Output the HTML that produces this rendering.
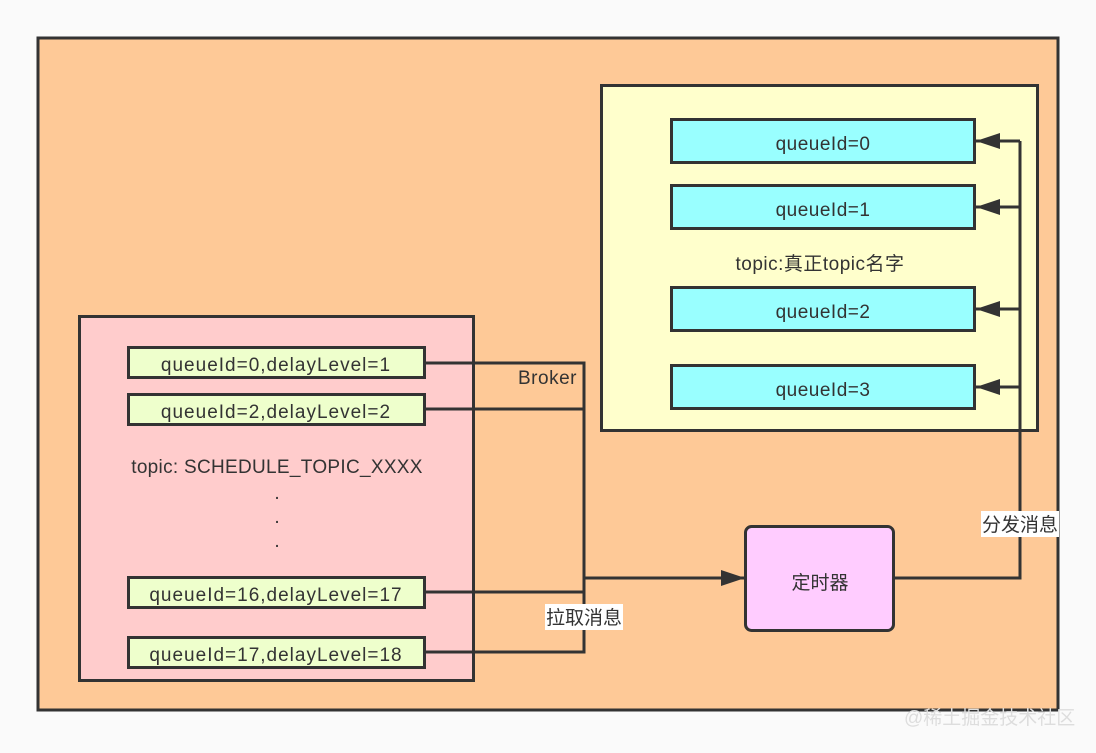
<!DOCTYPE html>
<html><head><meta charset="utf-8"><style>
html,body{margin:0;padding:0;background:#fafafa;}
svg text{font-family:"Liberation Sans","Noto Sans CJK SC",sans-serif;fill:#333;font-size:19px;}
.q{letter-spacing:1px}
</style></head><body>
<svg width="1096" height="748" xmlns="http://www.w3.org/2000/svg">
<defs>
<marker id="b" viewBox="0 0 24 16" markerWidth="24" markerHeight="16" refX="24" refY="8" orient="auto" markerUnits="userSpaceOnUse"><path d="M0,0 L24,8 L0,16Z" fill="#333"/></marker></defs>
<rect x="38" y="38" width="1020" height="672" fill="#fec997" stroke="#333" stroke-width="3"/>
<rect x="601.5" y="85.5" width="436" height="345" fill="#ffffcc" stroke="#333" stroke-width="3"/>
<g fill="#99ffff" stroke="#333" stroke-width="3">
<rect x="671.5" y="119.5" width="303" height="43"/>
<rect x="671.5" y="185.5" width="303" height="43"/>
<rect x="671.5" y="287.5" width="303" height="43"/>
<rect x="671.5" y="365.5" width="303" height="43"/>
</g>
<g text-anchor="middle" style="letter-spacing:0.5px">
<text x="823" y="150">queueId=0</text>
<text x="823" y="216">queueId=1</text>
<text x="823" y="318">queueId=2</text>
<text x="823" y="396">queueId=3</text>
<text x="820" y="270">topic:真正topic名字</text>
</g>
<rect x="79.5" y="316.5" width="394" height="364" fill="#ffcccc" stroke="#333" stroke-width="3"/>
<g fill="#eeffcc" stroke="#333" stroke-width="3">
<rect x="128.5" y="347.5" width="296" height="30"/>
<rect x="128.5" y="394.5" width="296" height="30"/>
<rect x="128.5" y="577.5" width="296" height="30"/>
<rect x="128.5" y="637.5" width="296" height="30"/>
</g>
<g text-anchor="middle">
<text class="q" x="276" y="371">queueId=0,delayLevel=1</text>
<text class="q" x="276" y="418">queueId=2,delayLevel=2</text>
<text class="q" x="276" y="601">queueId=16,delayLevel=17</text>
<text class="q" x="276" y="661">queueId=17,delayLevel=18</text>
<text x="277" y="473" style="letter-spacing:0.3px">topic: SCHEDULE_TOPIC_XXXX</text>
<text x="277" y="499">.</text>
<text x="277" y="523">.</text>
<text x="277" y="547">.</text>
</g>
<g fill="none" stroke="#333" stroke-width="3">
<polyline points="425,363 584,363 584,652 425,652"/>
<line x1="425" y1="409" x2="584" y2="409"/>
<line x1="425" y1="592" x2="584" y2="592"/>
<line x1="584" y1="578" x2="745" y2="578" marker-end="url(#b)"/>
<polyline points="894,578 1020,578 1020,141"/>
<line x1="1020" y1="141" x2="976" y2="141" marker-end="url(#b)"/>
<line x1="1020" y1="207" x2="976" y2="207" marker-end="url(#b)"/>
<line x1="1020" y1="309" x2="976" y2="309" marker-end="url(#b)"/>
<line x1="1020" y1="387" x2="976" y2="387" marker-end="url(#b)"/>
</g>
<rect x="745.5" y="526.5" width="148" height="104" rx="6" fill="#ffccff" stroke="#333" stroke-width="3"/>
<text x="820" y="589" text-anchor="middle">定时器</text>
<text x="518" y="384" style="letter-spacing:0.5px">Broker</text>
<rect x="545" y="604" width="78" height="26" fill="#fff"/>
<text x="546" y="624">拉取消息</text>
<rect x="981" y="511" width="78" height="26" fill="#fff"/>
<text x="982" y="531">分发消息</text>
<text x="904" y="724" style="fill:#ddd;font-size:19px">@稀土掘金技术社区</text>
</svg>
</body></html>
